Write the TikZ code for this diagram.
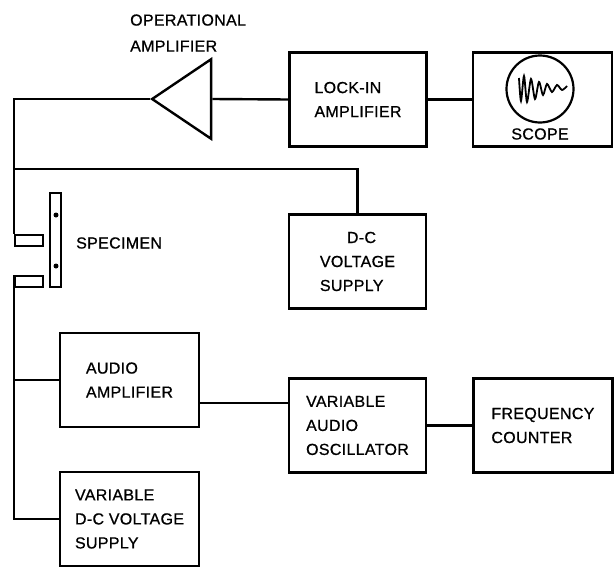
\documentclass[tikz,border=0pt]{standalone}
\usepackage{fontspec}
\setmainfont[LetterSpace=2,FakeBold=0.8]{Liberation Sans}
\usetikzlibrary{arrows.meta, positioning, shapes.geometric}
\tikzset{
    x=1pt,
    y=-1pt,
    font=\fontsize{16}{24}\selectfont,
    diag_box/.style={
        rectangle,
        draw=black,
        line width=2.4pt,
        minimum width=137pt,
        minimum height=94pt,
        inner sep=0pt,
        align=left
    },
    diag_opamp/.style={
        isosceles triangle,
        isosceles triangle apex angle=68,
        shape border rotate=180,
        draw=black,
        line width=2.4pt,
        minimum height=59pt,
        inner sep=0pt
    },
    diag_contact/.style={
        rectangle,
        draw=black,
        line width=2pt,
        minimum width=28pt,
        minimum height=11pt,
        inner sep=0pt
    },
    diag_specimen/.style={
        rectangle,
        draw=black,
        line width=2pt,
        minimum width=11pt,
        minimum height=94pt,
        inner sep=0pt
    },
    diag_dot/.style={
        circle,
        fill=black,
        minimum size=5pt,
        inner sep=0pt
    },
    diag_text/.style={
        align=left,
        inner sep=0pt
    },
    diag_wire/.style={
        line width=2.4pt
    }
}

\begin{document}
\begin{tikzpicture}
\useasboundingbox (0,0) rectangle (614,573);

% --- Top row ---
\node[diag_opamp, anchor=apex] (OpAmp) at (150,99) {};
\node[diag_box] (LockIn) at (358,99.5) {LOCK-IN\\AMPLIFIER};
\node[diag_box, minimum width=139pt, right=44pt of LockIn] (Scope) {};
\node[circle, draw=black, line width=2.2pt, minimum size=67pt, inner sep=0pt] (ScopeFace) at (540,89) {};
\node[diag_text] (ScopeLabel) at (540,134) {SCOPE};
\node[diag_text, anchor=west, font=\fontsize{16}{26}\selectfont] (OpAmpLabel) at (130,33) {OPERATIONAL\\AMPLIFIER};

% --- Specimen ---
\node[diag_contact] (ContactUp) at (29,240.5) {};
\node[diag_contact] (ContactLow) at (29,281.5) {};
\node[diag_specimen] (Specimen) at (55.5,240) {};
\node[diag_dot] (DotUp) at (56,215) {};
\node[diag_dot] (DotLow) at (56,266) {};
\node[diag_text, anchor=west] (SpecimenLabel) at (76,243) {SPECIMEN};

% --- Supplies and oscillator ---
\node[diag_box] (DCSupply) at (357.5,261.5) {\hspace*{27pt}D-C\\VOLTAGE\\SUPPLY};
\node[diag_box, minimum width=139pt] (AudioAmp) at (129.5,380) {AUDIO\\AMPLIFIER};
\node[diag_box] (Oscillator) at (357.5,425.5) {VARIABLE\\AUDIO\\OSCILLATOR};
\node[diag_box, minimum width=139pt, right=45pt of Oscillator] (Counter) {FREQUENCY\\COUNTER};
\node[diag_box, minimum width=139pt] (VarSupply) at (129.5,519) {VARIABLE\\D-C VOLTAGE\\SUPPLY};

% --- Scope trace ---
\draw[line width=1.8pt] plot[smooth] coordinates {(519,78) (521,101) (524,76) (527,102) (531,79) (535,99) (539,82) (543,95) (547,84) (552,92) (557,85) (562,90) (567,86)};

% --- Bus points ---
\coordinate (BusTop) at (ContactUp.west |- OpAmp.apex);
\coordinate (BusMid) at (ContactUp.west |- 0,169);
\coordinate (BusAudio) at (ContactLow.west |- AudioAmp.west);
\coordinate (BusEnd) at (ContactLow.west |- VarSupply.west);
\coordinate (AmpOut) at (AudioAmp.east |- 0,403);
\coordinate (OscIn) at (Oscillator.west |- 0,403);

% --- Edges ---
\draw[diag_wire] (OpAmp.apex) -- (BusTop) -- (ContactUp.north west);
\draw[diag_wire] (BusMid) -| (DCSupply.north);
\draw[diag_wire] (ContactLow.north west) -- (BusEnd) -- (VarSupply.west);
\draw[diag_wire] (BusAudio) -- (AudioAmp.west);
\draw[diag_wire] (OpAmp.east) -- (LockIn.west);
\draw[diag_wire] (LockIn) -- (Scope);
\draw[diag_wire] (AmpOut) -- (OscIn);
\draw[diag_wire] (Oscillator) -- (Counter);

\end{tikzpicture}
\end{document}
